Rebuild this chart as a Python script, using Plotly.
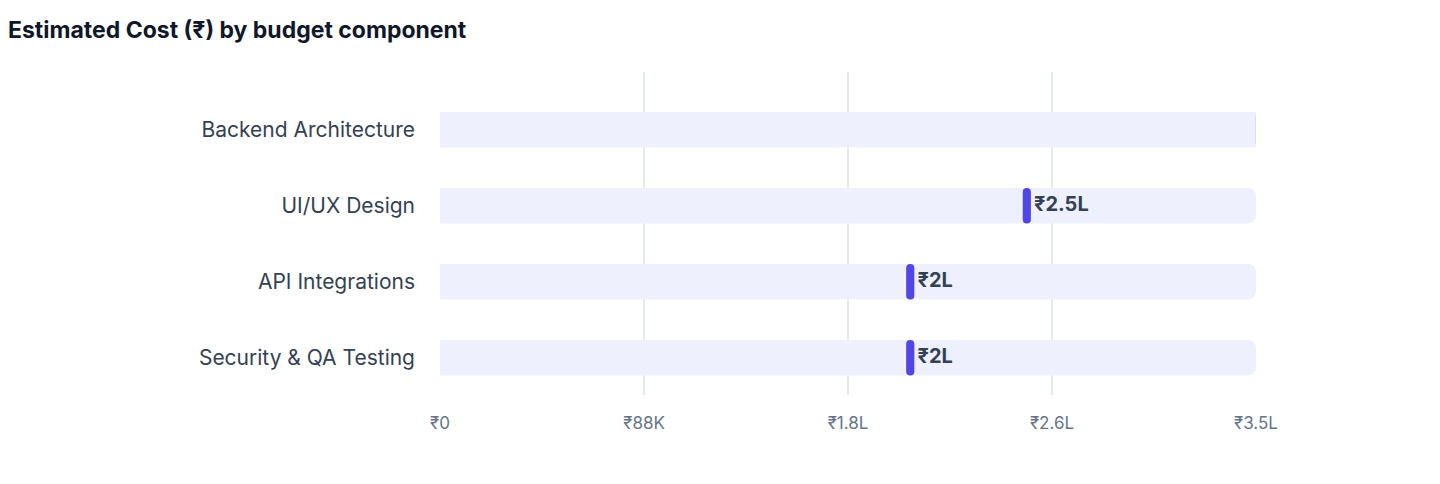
import plotly.graph_objects as go

categories = ["Backend Architecture", "UI/UX Design", "API Integrations", "Security & QA Testing"]
values = [350000, 250000, 200000, 200000]
value_labels = ["₹3.5L", "₹2.5L", "₹2L", "₹2L"]
tick_vals = [0, 87500, 175000, 262500, 350000]
tick_text = ["₹0", "₹88K", "₹1.8L", "₹2.6L", "₹3.5L"]
track_max = 350000

fig = go.Figure()
fig.add_bar(y=categories, x=[track_max]*len(categories), orientation="h", width=0.47,
            marker=dict(color="#EEF1FD", cornerradius=8, line_width=0), hoverinfo="skip",
            cliponaxis=False)
pill = 3500
fig.add_bar(y=categories, x=[pill]*len(values), base=[v - pill/2 + 1700 for v in values],
            orientation="h", width=0.47, cliponaxis=False,
            marker=dict(color="#4F46E5", cornerradius="50%", line_width=0), hoverinfo="skip")
fig.add_scatter(y=categories, x=[v + 4800 for v in values], mode="text", text=value_labels,
                textposition="middle right", cliponaxis=False,
                textfont=dict(size=20, color="#334155", family="Inter", weight="bold"), hoverinfo="skip")

fig.update_layout(
    width=1440, height=484, barmode="overlay", showlegend=False,
    paper_bgcolor="white", plot_bgcolor="white",
    margin=dict(l=432, r=192, t=64, b=97),
    font=dict(family="Inter", color="#334155"),
    title=dict(text="<b>Estimated Cost (₹) by budget component</b>", x=0, xref="container",
               xanchor="left", y=0.955, yanchor="middle",
               font=dict(size=23, color="#0F172A", family="Inter")),
)
fig.update_xaxes(range=[0, track_max], tickvals=tick_vals, ticktext=tick_text,
                 showgrid=True, gridcolor="#E2E8F0", gridwidth=1.5, zeroline=False,
                 tickfont=dict(size=17, color="#64748B"), ticks="", ticklabelstandoff=16)
fig.update_yaxes(range=[3.49, -0.76], tickfont=dict(size=21, color="#334155"),
                 showgrid=False, ticks="", ticklabelstandoff=24)
fig.write_html("out.html")
